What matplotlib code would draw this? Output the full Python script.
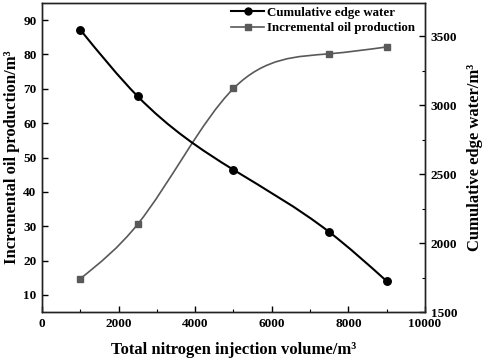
import numpy as np
import matplotlib.pyplot as plt
from matplotlib.path import Path
from matplotlib.patches import PathPatch
from matplotlib.ticker import MultipleLocator

plt.rcParams['font.family'] = ['Liberation Serif', 'DejaVu Serif']
plt.rcParams['font.weight'] = 'bold'

nitrogen = [1000, 2500, 5000, 7500, 9000]
edge_water = [3546, 3063, 2531, 2080, 1724]
oil_prod = [14.7, 30.6, 70.1, 80.2, 82.2]


def spline_path(xs, ys):
    """Natural cubic spline through the points, as bezier segments"""
    x = np.asarray(xs, float)
    y = np.asarray(ys, float)
    n = len(x)
    h = np.diff(x)
    A = np.zeros((n, n))
    b = np.zeros(n)
    A[0, 0] = A[-1, -1] = 1
    for i in range(1, n - 1):
        A[i, i - 1] = h[i - 1]
        A[i, i] = 2 * (h[i - 1] + h[i])
        A[i, i + 1] = h[i]
        b[i] = 3 * ((y[i + 1] - y[i]) / h[i] - (y[i] - y[i - 1]) / h[i - 1])
    c = np.linalg.solve(A, b)
    verts = [(x[0], y[0])]
    codes = [Path.MOVETO]
    for i in range(n - 1):
        slope0 = (y[i + 1] - y[i]) / h[i] - h[i] * (2 * c[i] + c[i + 1]) / 3
        slope1 = slope0 + 2 * c[i] * h[i] + (c[i + 1] - c[i]) * h[i]
        verts += [(x[i] + h[i] / 3, y[i] + slope0 * h[i] / 3),
                  (x[i + 1] - h[i] / 3, y[i + 1] - slope1 * h[i] / 3),
                  (x[i + 1], y[i + 1])]
        codes += [Path.CURVE4] * 3
    return Path(verts, codes)


fig = plt.figure(figsize=(4.84, 3.61), dpi=100)
ax = fig.add_axes([0.0868, 0.1357, 0.7912, 0.856])
ax2 = ax.twinx()

black = '#000000'
grey = '#595959'

ax2.add_patch(PathPatch(spline_path(nitrogen, edge_water), fill=False,
                        color=black, lw=1.5, zorder=2))
ax2.plot(nitrogen, edge_water, 'o', color=black, ms=5.4, zorder=3)
ax.add_patch(PathPatch(spline_path(nitrogen, oil_prod), fill=False,
                       color=grey, lw=1.2, zorder=2))
ax.plot(nitrogen, oil_prod, 's', color=grey, ms=5, zorder=3)

ax.set_xlim(0, 10000)
ax.set_ylim(5, 95)
ax2.set_ylim(1500, 3740)
ax.xaxis.set_major_locator(MultipleLocator(2000))
ax.xaxis.set_minor_locator(MultipleLocator(1000))
ax.yaxis.set_major_locator(MultipleLocator(10))
ax2.yaxis.set_major_locator(MultipleLocator(500))
ax2.yaxis.set_minor_locator(MultipleLocator(250))

for a in (ax, ax2):
    a.tick_params(direction='in', labelsize=9.5, length=4, width=1, pad=4)
    a.tick_params(which='minor', direction='in', length=2.5, width=0.8)
    for s in a.spines.values():
        s.set_linewidth(1.0)
        s.set_color('#222222')

ax.set_xlabel('Total nitrogen injection volume/m³', fontsize=12, fontweight='bold', labelpad=9)
ax.set_ylabel('Incremental oil production/m³', fontsize=12, fontweight='bold', labelpad=2)
ax2.set_ylabel('Cumulative edge water/m³', fontsize=12, fontweight='bold', labelpad=7)

h1 = plt.Line2D([], [], color=black, marker='o', lw=1.5, ms=5)
h2 = plt.Line2D([], [], color=grey, marker='s', lw=1.2, ms=4.5)
ax2.legend([h1, h2], ['Cumulative edge water', 'Incremental oil production'],
           loc='upper right', bbox_to_anchor=(0.984, 1.0), frameon=False,
           fontsize=9.3, handlelength=2.6, handletextpad=0.2,
           borderaxespad=0.1, labelspacing=0.25, borderpad=0.2)

fig.savefig('out.png', dpi=100)
